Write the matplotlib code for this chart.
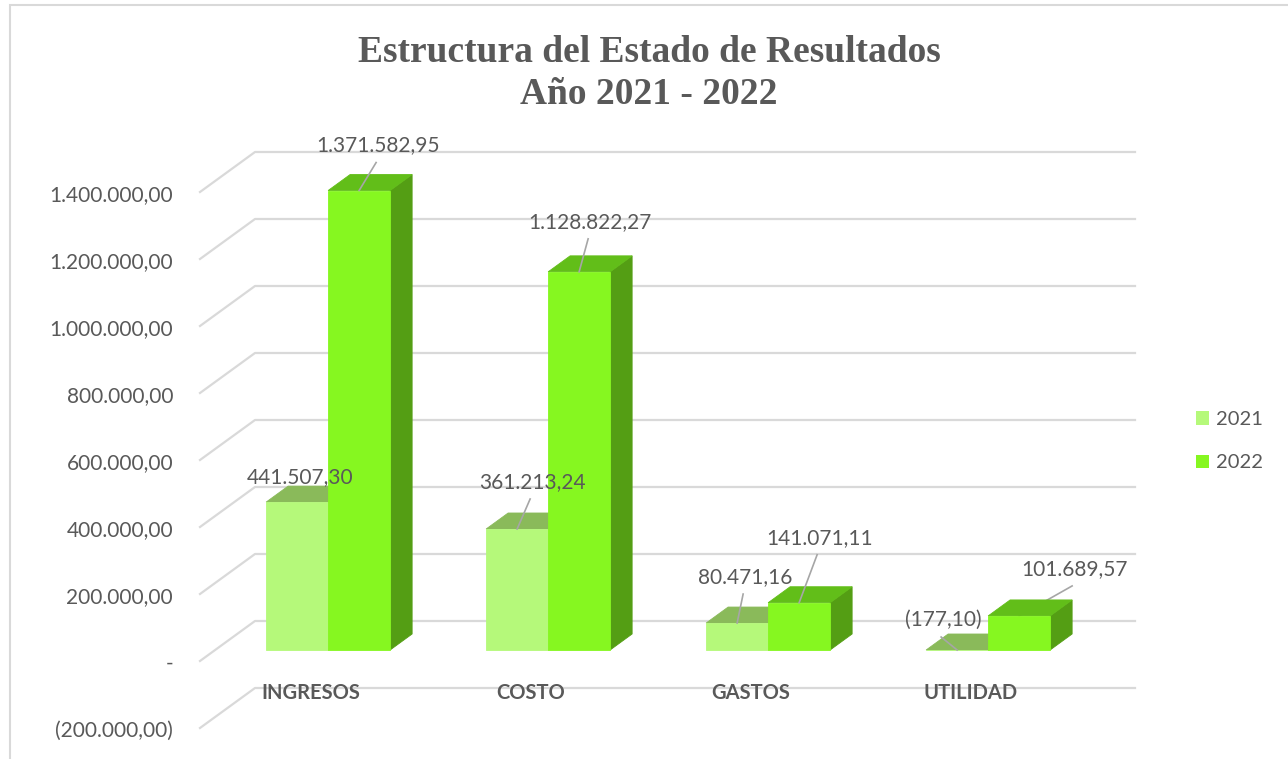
import matplotlib.pyplot as plt
from matplotlib.patches import Polygon, Patch, Rectangle

# Datos del estado de resultados
categorias = ['INGRESOS', 'COSTO', 'GASTOS', 'UTILIDAD']
anios = ['2021', '2022']
valores_2021 = [441507.30, 361213.24, 80471.16, -177.10]
valores_2022 = [1371582.95, 1128822.27, 141071.11, 101689.57]
ticks_y = [-200000, 0, 200000, 400000, 600000, 800000, 1000000, 1200000, 1400000]

# Desplazamiento de las etiquetas de datos respecto al tope de cada barra (px)
offset_2021 = [(3, -25), (15, -47), (8, -46), (-14, -30)]
offset_2022 = [(19, -45), (11, -50), (20, -65), (55, -47)]

# Colores (cara frontal, superior, lateral)
col_2021 = ('#b5f97a', '#8aba5a', '#6f9e45')
col_2022 = ('#86f720', '#62be19', '#549e14')
gris_txt = '#595959'
gris_grid = '#d9d9d9'

W, H = 1288, 759
PX_X = 220.0            # px por categoría
PX_V = 67.0 / 200000    # px por unidad de valor
X0, Y0 = 368.0, 621.0   # posición de la categoría 0 y del cero en la pared trasera
DX = -55.0 / PX_X       # vector de profundidad (pared trasera -> frente)
DV = -40.0 / PX_V
D_FRENTE, D_FONDO = 0.725, 0.325
ANCHO = 62.0 / PX_X

fig = plt.figure(figsize=(W / 100, H / 100), dpi=100)
ax = fig.add_axes([0, 0, 1, 1])
ax.set_xlim(-X0 / PX_X, (W - X0) / PX_X)
ax.set_ylim((Y0 - H) / PX_V, Y0 / PX_V)
ax.axis('off')


def proj(x, v, d):
    return (x + d * DX, v + d * DV)


def fmt(v):
    if v == 0:
        return '-'
    s = f'{abs(v):,.2f}'.replace(',', 'X').replace('.', ',').replace('X', '.')
    return f'({s})' if v < 0 else s


# Rejilla: pared lateral y pared trasera
x_izq, x_der = (255 - X0) / PX_X, (1135 - X0) / PX_X
for t in ticks_y:
    p0 = proj(x_izq, t, 1)
    p1 = proj(x_izq, t, 0)
    ax.plot([p0[0], p1[0], x_der], [p0[1], p1[1], t], color=gris_grid, lw=1.6, zorder=1)
    ax.text(p0[0] - 27 / PX_X, t + DV - 3 / PX_V, fmt(t), ha='right', va='center',
            fontsize=15, family='Lato', color=gris_txt)


def barra(xl, v, colores, z):
    xr = xl + ANCHO
    lo, hi = min(0, v), max(0, v)
    frente, arriba, lado = colores
    caras = [
        ([proj(xr, lo, D_FRENTE), proj(xr, lo, D_FONDO), proj(xr, hi, D_FONDO), proj(xr, hi, D_FRENTE)], lado),
        ([proj(xl, hi, D_FRENTE), proj(xr, hi, D_FRENTE), proj(xr, hi, D_FONDO), proj(xl, hi, D_FONDO)], arriba),
        ([proj(xl, lo, D_FRENTE), proj(xr, lo, D_FRENTE), proj(xr, hi, D_FRENTE), proj(xl, hi, D_FRENTE)], frente),
    ]
    for pts, c in caras:
        ax.add_patch(Polygon(pts, closed=True, facecolor=c, edgecolor=c, lw=0.6, zorder=z))
    return proj(xl + ANCHO / 2, hi, D_FRENTE)


def etiqueta(tope, v, off):
    dx, dy = off
    lx, ly = tope[0] + dx / PX_X, tope[1] - dy / PX_V
    ax.text(lx, ly, fmt(v), ha='center', va='center', fontsize=15, family='Lato',
            color=gris_txt, zorder=10)
    ex, ey = lx - 2 / PX_X, ly - 17 / PX_V
    if abs(ey - tope[1]) * PX_V > 12:
        ax.plot([tope[0], ex], [tope[1], ey], color='#a6a6a6', lw=1.2, zorder=9)


for i, cat in enumerate(categorias):
    t1 = barra(i - ANCHO, valores_2021[i], col_2021, 3 + 2 * i)
    t2 = barra(i, valores_2022[i], col_2022, 4 + 2 * i)
    etiqueta(t1, valores_2021[i], offset_2021[i])
    etiqueta(t2, valores_2022[i], offset_2022[i])
    ax.text(i - 57 / PX_X, -200000 - 5 / PX_V, cat, ha='center', va='center',
            fontsize=14.5, family='Lato', weight='bold', color=gris_txt, zorder=10)

# Leyenda
handles = [Patch(facecolor=col_2021[0]), Patch(facecolor=col_2022[0])]
ax.legend(handles, anios, loc='upper left', bbox_to_anchor=(1178 / W, 1 - 393 / H),
          frameon=False, handlelength=0.65, handleheight=0.65, handletextpad=0.35,
          labelspacing=1.3, prop={'family': 'Lato', 'size': 14.5}, labelcolor=gris_txt)

# Título
fig.text(649 / W, 1 - 52 / H, 'Estructura del Estado de Resultados', ha='center', va='center',
         family='Liberation Serif', weight='bold', fontsize=27, color=gris_txt)
fig.text(649 / W, 1 - 95 / H, 'Año 2021 - 2022', ha='center', va='center',
         family='Liberation Serif', weight='bold', fontsize=27, color=gris_txt)

# Marco del gráfico
fig.patches.append(Rectangle((10 / W, -0.05), 1.1, 1.05 - 5 / H, transform=fig.transFigure,
                             fill=False, edgecolor=gris_grid, lw=1.5))

fig.savefig('out.png', dpi=100)
